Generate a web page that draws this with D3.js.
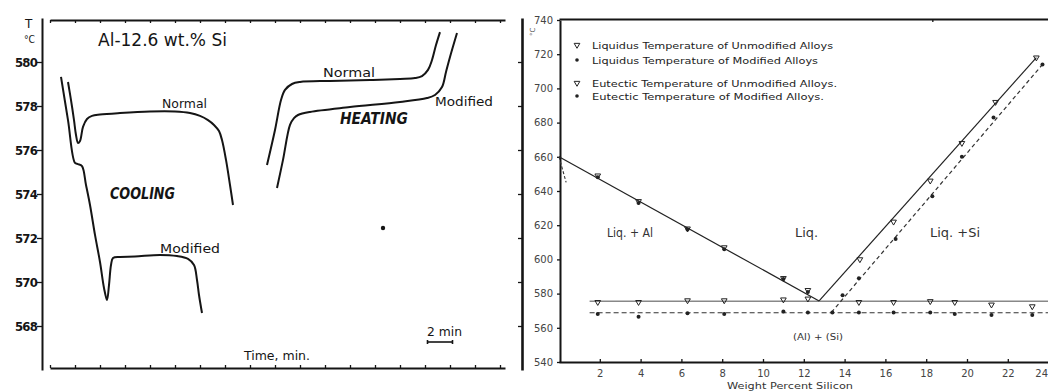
<!DOCTYPE html>
<html><head><meta charset="utf-8">
<script src="https://cdn.jsdelivr.net/npm/d3@7"></script>
<style>body{margin:0;background:#fff}svg{display:block}</style>
</head><body>
<svg id="c" width="1048" height="392"></svg>
<script>
// ---------- Left panel: thermal analysis curves (time, min / temperature, °C)
const coolNormalTime = [1.44,1.68,1.92,2.08,2.24,2.4,2.64,2.96,3.36,4.0,5.6,8.0,10.0,11.2,12.0,12.64,13.12,13.52,13.76,14.08,14.4,14.64];
const coolNormalTemp = [579.09,578.27,577.36,576.68,576.32,576.41,577.05,577.41,577.55,577.61,577.68,577.75,577.75,577.68,577.55,577.36,577.14,576.86,576.45,575.55,574.41,573.5];
const coolModTime = [0.88,1.44,2.0,2.24,2.56,2.88,3.2,3.6,4.0,4.32,4.56,4.72,4.88,5.04,5.6,6.8,8.8,10.16,11.04,11.52,11.76,11.92,12.16];
const coolModTemp = [579.32,577.36,575.41,575.36,575.27,574.41,573.5,572.14,570.91,569.73,569.18,569.86,570.77,571.09,571.14,571.16,571.23,571.18,571.05,570.77,570.09,569.41,568.59];
const heatNormalTime = [17.36,18.0,18.48,18.8,19.36,20.0,22.4,25.6,28.0,29.2,29.76,30.24,30.56,30.88,31.2];
const heatNormalTemp = [575.32,576.91,578.27,578.73,579.0,579.09,579.14,579.18,579.23,579.27,579.36,579.64,580.09,580.77,581.36];
const heatModTime = [18.16,18.64,19.2,19.52,19.84,20.8,24.0,28.0,30.16,30.8,31.36,31.68,32.0,32.56];
const heatModTemp = [574.27,575.55,577.14,577.45,577.59,577.73,577.95,578.18,578.36,578.5,578.86,579.55,580.23,581.32];
const leftTempTicks = [568,570,572,574,576,578,580];
const leftTimeTicks = [0,2,4,6,8,10,12,14,16,18,20,22,24,26,28,30,32,34,36];

// ---------- Right panel: Al-Si phase diagram (wt.% Si / temperature, °C)
const liqUnmodW = [1.9,3.9,6.3,8.1,11.0,12.2,14.75,16.4,18.2,19.75,21.4,23.4];
const liqUnmodT = [649,634,618,607,589,582,600,622,646,668,692,718];
const liqModW = [1.9,3.9,6.3,8.1,11.0,12.2,13.9,14.7,16.5,18.3,19.75,21.3,23.7];
const liqModT = [648,633,617.5,606,588.5,581,579,589,612,637,660,683,714];
const eutUnmodW = [1.9,3.9,6.3,8.1,11.0,12.2,14.7,16.4,18.2,19.4,21.2,23.2];
const eutUnmodT = [575,575,576,576,576.5,577,575,575,575.5,575,573.5,572.5];
const eutModW = [1.9,3.9,6.3,8.1,11.0,12.2,13.4,14.7,16.4,18.2,19.4,21.2,23.2];
const eutModT = [568,566.5,568.5,568,569.5,569,569,569,569,569,568,567.5,567.5];
// fitted boundary lines [wt.% Si, °C]
const liqAlLine = [[0,660],[12.75,575.7]];
const liqAlModStub = [[0,660],[0.35,645]];
const liqSiUnmodLine = [[12.75,575.7],[23.4,718]];
const liqSiModLine = [[13.35,569],[23.7,714]];
const eutUnmodLine = [[1.5,575.5],[24,575.5]];
const eutModLine = [[1.5,568.8],[24,568.8]];
const rightTempTicks = [540,560,580,600,620,640,660,680,700,720,740];
const rightSiTicks = [2,4,6,8,10,12,14,16,18,20,22,24];
const legendLabels = ["Liquidus Temperature of Unmodified Alloys","Liquidus Temperature of Modified Alloys",
  "Eutectic Temperature of Unmodified Alloys.","Eutectic Temperature of Modified Alloys."];

const svg = d3.select("#c");
const ink = "#151515";

// ===== LEFT PANEL =====
const xL = d3.scaleLinear().domain([0,36.4]).range([50,505]);
const yL = d3.scaleLinear().domain([566,582]).range([370,18]);
const L = svg.append("g");

function styleAxis(g, sw, col){
  g.selectAll("path.domain").attr("stroke", col||ink).attr("stroke-width", sw);
  g.selectAll(".tick line").attr("stroke", col||ink).attr("stroke-width", 1.3);
}
const ax1 = L.append("g").attr("transform","translate(42,0)")
  .call(d3.axisLeft(yL).tickValues(leftTempTicks).tickSize(5).tickSizeOuter(0).tickPadding(0));
styleAxis(ax1,2);
ax1.selectAll("text").attr("font-family","DejaVu Sans Condensed").attr("font-weight","bold")
  .attr("font-size",13).attr("letter-spacing","-0.8").attr("fill",ink);
const ax2 = L.append("g").attr("transform","translate(522,0)")
  .call(d3.axisLeft(yL).tickValues(leftTempTicks).tickSize(4).tickSizeOuter(0).tickFormat(""));
styleAxis(ax2,2.6);
const ax3 = L.append("g").attr("transform","translate(0,20)")
  .call(d3.axisBottom(xL).tickValues(leftTimeTicks).tickSize(3).tickSizeOuter(0).tickFormat(""));
styleAxis(ax3,2);
const ax4 = L.append("g").attr("transform","translate(0,368)")
  .call(d3.axisTop(xL).tickValues(leftTimeTicks).tickSize(3).tickSizeOuter(0).tickFormat(""));
styleAxis(ax4,2);

const lineL = d3.line().x(d=>xL(d[0])).y(d=>yL(d[1])).curve(d3.curveCatmullRom.alpha(0.5));
[[coolNormalTime,coolNormalTemp],[coolModTime,coolModTemp],[heatNormalTime,heatNormalTemp],[heatModTime,heatModTemp]]
 .forEach(([t,v])=>{
  L.append("path").attr("d", lineL(t.map((d,i)=>[d,v[i]])))
   .attr("fill","none").attr("stroke",ink).attr("stroke-width",2).attr("stroke-linejoin","round");
 });

function txt(g,x,y,s,opt){
  const t = g.append("text").attr("x",x).attr("y",y).text(s)
    .attr("font-family",opt.family||"DejaVu Sans").attr("font-size",opt.size)
    .attr("fill",opt.fill||ink);
  if(opt.weight) t.attr("font-weight",opt.weight);
  if(opt.style) t.attr("font-style",opt.style);
  if(opt.len){ t.attr("textLength",opt.len).attr("lengthAdjust","spacingAndGlyphs"); }
  if(opt.anchor) t.attr("text-anchor",opt.anchor);
  return t;
}
txt(L,25,28,"T",{size:12});
txt(L,24,43,"°C",{size:11,len:11});
txt(L,98,46,"Al-12.6 wt.% Si",{size:17,len:129});
txt(L,162,108,"Normal",{size:12,len:45});
txt(L,110,199,"COOLING",{size:16,weight:"bold",style:"italic",family:"DejaVu Sans Condensed",len:65});
txt(L,160,253,"Modified",{size:12,len:60});
txt(L,323,77,"Normal",{size:12,len:52});
txt(L,340,124,"HEATING",{size:16,weight:"bold",style:"italic",family:"DejaVu Sans Condensed",len:68});
txt(L,435,106,"Modified",{size:12,len:58});
txt(L,244,360,"Time, min.",{size:12,len:66});
txt(L,427,336,"2 min",{size:12,len:35});
// 2 min scale bar (from the time scale)
const sb = L.append("g").attr("stroke",ink).attr("stroke-width",1.6);
sb.append("line").attr("x1",xL(30.2)).attr("x2",xL(32.2)).attr("y1",342).attr("y2",342);
sb.append("line").attr("x1",xL(30.2)).attr("x2",xL(30.2)).attr("y1",340).attr("y2",344);
sb.append("line").attr("x1",xL(32.2)).attr("x2",xL(32.2)).attr("y1",340).attr("y2",344);
L.append("circle").attr("cx",383).attr("cy",228).attr("r",2.2).attr("fill",ink);

// ===== RIGHT PANEL =====
const xR = d3.scaleLinear().domain([0,24]).range([559,1048.6]);
const yR = d3.scaleLinear().domain([540,740]).range([362,20]);
const R = svg.append("g");
const ay = R.append("g").attr("transform","translate(560,0)")
  .call(d3.axisLeft(yR).tickValues(rightTempTicks).tickSize(3).tickSizeOuter(0).tickPadding(4));
styleAxis(ay,2);
ay.selectAll("text").attr("font-family","DejaVu Sans").attr("font-size",10).attr("fill","#444");
const axb = R.append("g").attr("transform","translate(0,362)")
  .call(d3.axisBottom(xR).tickValues(rightSiTicks).tickSizeInner(-3).tickSizeOuter(0).tickPadding(8));
styleAxis(axb,2);
axb.selectAll("text").attr("font-family","DejaVu Sans").attr("font-size",10).attr("fill","#444");
// last label sits at the clipped right edge: keep it fully inside
axb.selectAll(".tick").filter(d=>d===24).select("text").attr("text-anchor","end").attr("dx",-1);
const axt = R.append("g").attr("transform","translate(0,19)")
  .call(d3.axisBottom(xR).tickValues([18.3]).tickSize(3).tickSizeOuter(0).tickFormat(""));
styleAxis(axt,2);
R.append("text").attr("x",0).attr("y",0).attr("transform","translate(535,36) rotate(-90)")
  .attr("font-size",7).attr("font-family","DejaVu Sans").attr("fill","#555").text("°C");

const lineR = d3.line().x(d=>xR(d[0])).y(d=>yR(d[1]));
function drawLine(data, dash, col, sw){
  R.append("path").attr("d",lineR(data)).attr("fill","none").attr("stroke",col)
   .attr("stroke-width",sw).attr("stroke-dasharray",dash||null);
}
drawLine(eutUnmodLine,null,"#888",1.4);
drawLine(eutModLine,"5,3","#333",1.1);
drawLine(liqAlLine,null,"#222",1.2);
drawLine(liqAlModStub,"3,2","#333",1.1);
drawLine(liqSiUnmodLine,null,"#222",1.2);
drawLine(liqSiModLine,"4,3","#333",1.2);

const tri = d3.symbol().type(d3.symbolTriangle).size(14);
function openMarks(W,T){
  R.selectAll(null).data(W.map((w,i)=>[w,T[i]])).enter().append("path")
   .attr("d",tri).attr("transform",d=>`translate(${xR(d[0])},${yR(d[1])}) rotate(180)`)
   .attr("fill","none").attr("stroke","#222").attr("stroke-width",1);
}
function filledMarks(W,T){
  R.selectAll(null).data(W.map((w,i)=>[w,T[i]])).enter().append("circle")
   .attr("cx",d=>xR(d[0])).attr("cy",d=>yR(d[1])).attr("r",2).attr("fill","#222");
}
openMarks(liqUnmodW,liqUnmodT);
filledMarks(liqModW,liqModT);
openMarks(eutUnmodW,eutUnmodT);
filledMarks(eutModW,eutModT);

// legend
const legY = [45,60,83,96];
const legLen = [241,226,245,232];
legendLabels.forEach((s,i)=>{
  if(i%2===0){
    R.append("path").attr("d",tri).attr("transform",`translate(577,${legY[i]}) rotate(180)`)
     .attr("fill","none").attr("stroke","#222").attr("stroke-width",1);
  } else {
    R.append("circle").attr("cx",577).attr("cy",legY[i]).attr("r",1.8).attr("fill","#222");
  }
  txt(R,592,legY[i]+3.5,s,{size:9.5,fill:"#222",len:legLen[i]});
});
txt(R,607,237,"Liq. + Al",{size:12,fill:"#333",len:46});
txt(R,795,237,"Liq.",{size:12,fill:"#333",len:23});
txt(R,930,237,"Liq. +Si",{size:12,fill:"#333",len:50});
txt(R,793,340,"(Al) + (Si)",{size:9.5,fill:"#333",len:50});
txt(R,727,389,"Weight  Percent  Silicon",{size:9,fill:"#333",len:126});
</script>
</body></html>
